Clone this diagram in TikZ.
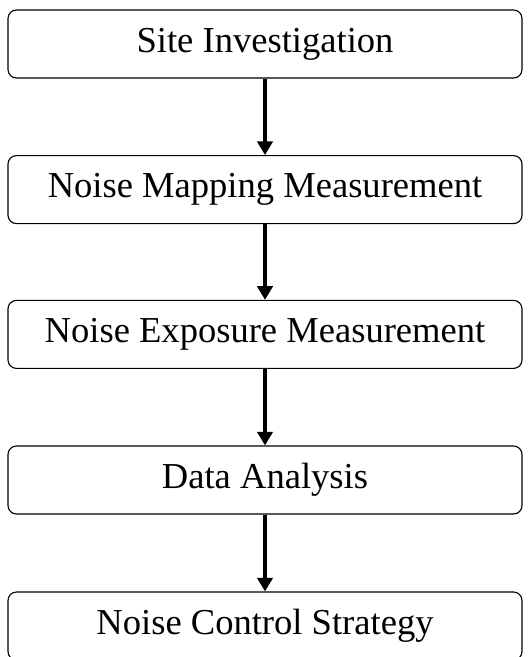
\documentclass[tikz,border=0pt]{standalone}
\usepackage{fontspec}
\setmainfont{Liberation Serif}
\usepackage{tikz}
\usetikzlibrary{arrows.meta}
\tikzset{
  stagebox/.style={
    draw, rounded corners=6pt, line width=0.8pt, align=center,
    font=\fontsize{26}{30}\selectfont, fill=white,
    minimum width=12.85cm, minimum height=1.7cm
  },
  stagearrow/.style={
    -{Triangle[length=3.4mm, width=3.8mm]}, line width=2.4pt, color=black
  },
}
\begin{document}
\begin{tikzpicture}
  \useasboundingbox (0, 0) rectangle (13.225, -16.425);

  % Stages
  \node[stagebox] (site) at (6.625, -1.1) {Site Investigation};
  \node[stagebox] (mapping) at (6.625, -4.74) {Noise Mapping Measurement};
  \node[stagebox] (exposure) at (6.625, -8.36) {Noise Exposure Measurement};
  \node[stagebox] (analysis) at (6.625, -12.0) {Data Analysis};
  \node[stagebox] (control) at (6.625, -15.65) {Noise Control Strategy};

  % Arrows between stages
  \draw[stagearrow] (site) -- (mapping);
  \draw[stagearrow] (mapping) -- (exposure);
  \draw[stagearrow] (exposure) -- (analysis);
  \draw[stagearrow] (analysis) -- (control);
\end{tikzpicture}
\end{document}
